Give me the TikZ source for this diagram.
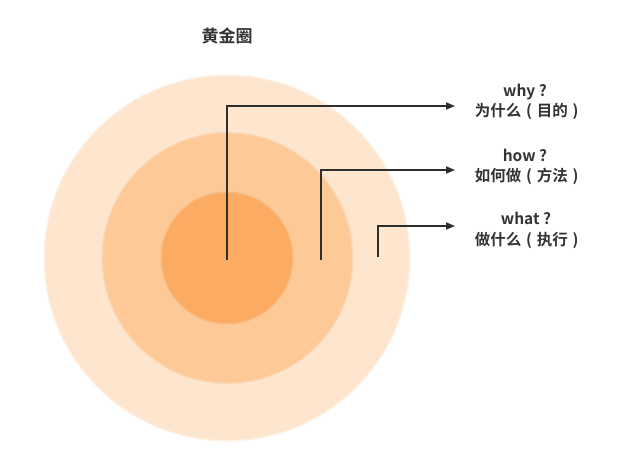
\documentclass[tikz,border=0pt]{standalone}
\usepackage{fontspec}
\newfontfamily\cjk{Noto Sans CJK SC Bold}
\usetikzlibrary{arrows.meta}
\definecolor{ringA}{HTML}{FDE5CE}
\definecolor{ringB}{HTML}{FCC997}
\definecolor{ringC}{HTML}{FBAB62}
\definecolor{txt}{HTML}{333333}
\definecolor{ln}{HTML}{2E2E2E}
\newcommand\lpar{\makebox[1em]{(}}
\newcommand\rpar{\makebox[1em]{)}}
\tikzset{
  lbl/.style={font=\cjk\fontsize{15.5}{18}\selectfont, text=txt, inner sep=0pt, anchor=center},
  conn/.style={draw=ln, line width=1.6pt, -{Triangle[length=9pt,width=7pt]}},
}
\begin{document}
\begin{tikzpicture}[x=1pt,y=-1pt]
\useasboundingbox[fill=white] (0,0) rectangle (637,463);
% circles with slightly soft edges
\fill[ringA, opacity=0.5] (227,258) circle[radius=183.5];
\fill[ringA] (227,258) circle[radius=182];
\fill[ringB, opacity=0.5] (227.5,258) circle[radius=126];
\fill[ringB] (227.5,258) circle[radius=124.5];
\fill[ringC, opacity=0.5] (227,258) circle[radius=66.5];
\fill[ringC] (227,258) circle[radius=65];
% title
\node[lbl, font=\cjk\fontsize{17}{20}\selectfont] (title) at (227,36) {黄金圈};
% start points
\coordinate (s1) at (227,260);
\coordinate (s2) at (321,260);
\coordinate (s3) at (378,257);
% labels
\node[lbl] (why) at (525,92) {why ?};
\node[lbl] (whyc) at (529,111) {为什么\lpar 目的\rpar};
\node[lbl] (how) at (525,155) {how ?};
\node[lbl] (howc) at (529,176) {如何做\lpar 方法\rpar};
\node[lbl] (what) at (526,218) {what ?};
\node[lbl] (whatc) at (529,240) {做什么\lpar 执行\rpar};
\coordinate (e1) at (455,106);
\coordinate (e2) at (455,170);
\coordinate (e3) at (455,226);
\draw[conn] (s1) |- (e1);
\draw[conn] (s2) |- (e2);
\draw[conn] (s3) |- (e3);
\end{tikzpicture}
\end{document}
